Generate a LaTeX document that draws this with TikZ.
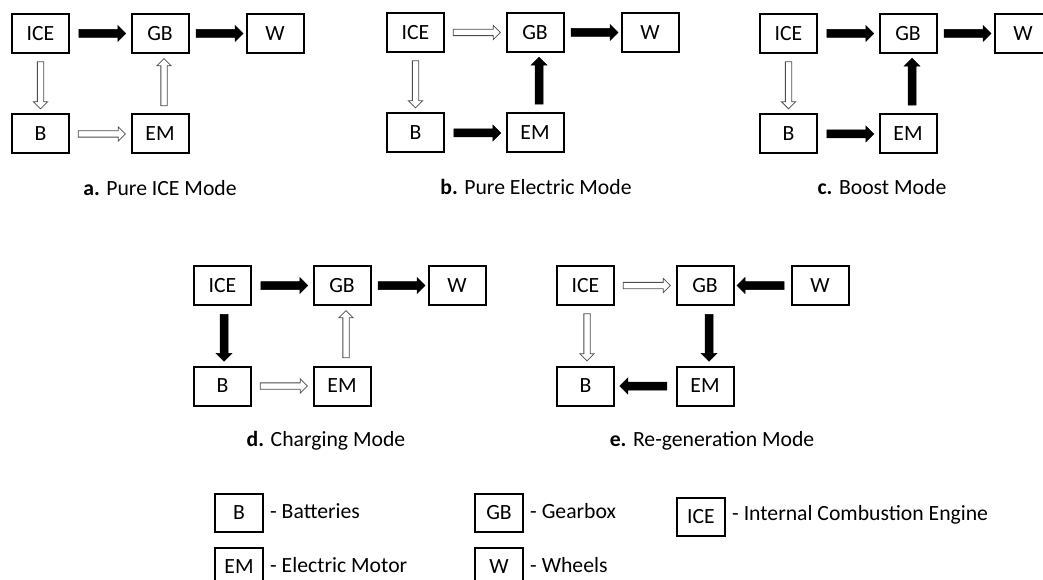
\documentclass[tikz,border=0pt]{standalone}
\usepackage{fontspec}
\setmainfont{Carlito}
\usetikzlibrary{shapes.arrows}
\tikzset{
  box/.style={draw, line width=2pt, minimum width=57pt, minimum height=39pt, inner sep=0pt, font=\fontsize{21.7}{26}\selectfont},
  lbox/.style={box, minimum width=48pt, minimum height=38pt},
  arrowbase/.style={single arrow, single arrow head indent=0pt, inner sep=0pt, minimum height=47pt, sloped, allow upside down, anchor=center, single arrow head extend=4pt},
  blk/.style={arrowbase, fill=black, draw=black, line width=0.5pt},
  wht/.style={arrowbase, fill=white, draw=black!70, line width=0.8pt},
  caption/.style={font=\fontsize{21.7}{26}\selectfont, inner sep=0pt},
  legtext/.style={font=\fontsize{21.7}{26}\selectfont, inner sep=0pt, anchor=west}
}
\newcommand{\bshaft}{\rule{0pt}{7.5pt}}
\newcommand{\wshaft}{\rule{0pt}{5.5pt}}
\newcommand{\modepanel}[3]{%
  \begin{scope}[shift={(#2,#3)}]
    \node[box, anchor=north west] (#1ICE) at (0,0) {ICE};
    \node[box, anchor=north west] (#1GB) at (119.5,0) {GB};
    \node[box, anchor=north west] (#1W) at (234.5,0) {W};
    \node[box, anchor=north west] (#1B) at (0,100.5) {B};
    \node[box, anchor=north west] (#1EM) at (119.5,100.5) {EM};
  \end{scope}}
\begin{document}
\begin{tikzpicture}[x=1pt, y=-1pt]
\useasboundingbox (0,0) rectangle (1043,580);
\begin{scope}
\clip (0,0) rectangle (1043,580);
% panels
\modepanel{a}{11}{13}
\modepanel{b}{386}{12}
\modepanel{c}{759}{13}
\modepanel{d}{193}{265}
\modepanel{e}{556}{265}

% a. Pure ICE Mode
\path (aICE.east) -- node[blk] {\bshaft} (aGB.west);
\path (aGB.east) -- node[blk] {\bshaft} (aW.west);
\path (aICE.south) -- node[wht] {\wshaft} (aB.north);
\path (aB.east) -- node[wht] {\wshaft} (aEM.west);
\path ([xshift=4pt]aEM.north) -- node[wht] {\wshaft} ([xshift=4pt]aGB.south);

% b. Pure Electric Mode
\path (bICE.east) -- node[wht] {\wshaft} (bGB.west);
\path (bGB.east) -- node[blk] {\bshaft} (bW.west);
\path (bICE.south) -- node[wht] {\wshaft} (bB.north);
\path (bB.east) -- node[blk] {\bshaft} (bEM.west);
\path ([xshift=4pt]bEM.north) -- node[blk] {\bshaft} ([xshift=4pt]bGB.south);

% c. Boost Mode
\path (cICE.east) -- node[blk] {\bshaft} (cGB.west);
\path (cGB.east) -- node[blk] {\bshaft} (cW.west);
\path (cICE.south) -- node[wht] {\wshaft} (cB.north);
\path (cB.east) -- node[blk] {\bshaft} (cEM.west);
\path ([xshift=4pt]cEM.north) -- node[blk] {\bshaft} ([xshift=4pt]cGB.south);

% d. Charging Mode
\path (dICE.east) -- node[blk] {\bshaft} (dGB.west);
\path (dGB.east) -- node[blk] {\bshaft} (dW.west);
\path ([xshift=1.5pt]dICE.south) -- node[blk] {\bshaft} ([xshift=1.5pt]dB.north);
\path (dB.east) -- node[wht] {\wshaft} (dEM.west);
\path ([xshift=4pt]dEM.north) -- node[wht] {\wshaft} ([xshift=4pt]dGB.south);

% e. Re-generation Mode
\path (eICE.east) -- node[wht] {\wshaft} (eGB.west);
\path (eW.west) -- node[blk] {\bshaft} (eGB.east);
\path ([xshift=1.5pt]eICE.south) -- node[wht] {\wshaft} ([xshift=1.5pt]eB.north);
\path ([xshift=4pt]eGB.south) -- node[blk] {\bshaft} ([xshift=4pt]eEM.north);
\path (eEM.west) -- node[blk] {\bshaft} (eB.east);

% captions
\node[caption] (capa) at (160,188) {\textbf{a.} Pure ICE Mode};
\node[caption] (capb) at (536,187) {\textbf{b.} Pure Electric Mode};
\node[caption] (capc) at (882,187) {\textbf{c.} Boost Mode};
\node[caption] (capd) at (326,441) {\textbf{d.} Charging Mode};
\node[caption] (cape) at (712,441) {\textbf{e.} Re-generation Mode};

% legend
\node[lbox, anchor=north west] (LB) at (214,493) {B};
\node[legtext] (LBt) at ([xshift=6pt,yshift=2pt]LB.east) {- Batteries};
\node[lbox, anchor=north west] (LGB) at (474,493) {GB};
\node[legtext] (LGBt) at ([xshift=6pt,yshift=2pt]LGB.east) {- Gearbox};
\node[lbox, anchor=north west] (LICE) at (676,497) {ICE};
\node[legtext] (LICEt) at ([xshift=6pt,yshift=2pt]LICE.east) {- Internal Combustion Engine};
\node[lbox, anchor=north west] (LEM) at (214,547) {EM};
\node[legtext] (LEMt) at ([xshift=6pt,yshift=2pt]LEM.east) {- Electric Motor};
\node[lbox, anchor=north west] (LW) at (474,547) {W};
\node[legtext] (LWt) at ([xshift=6pt,yshift=2pt]LW.east) {- Wheels};
\end{scope}
\end{tikzpicture}
\end{document}
